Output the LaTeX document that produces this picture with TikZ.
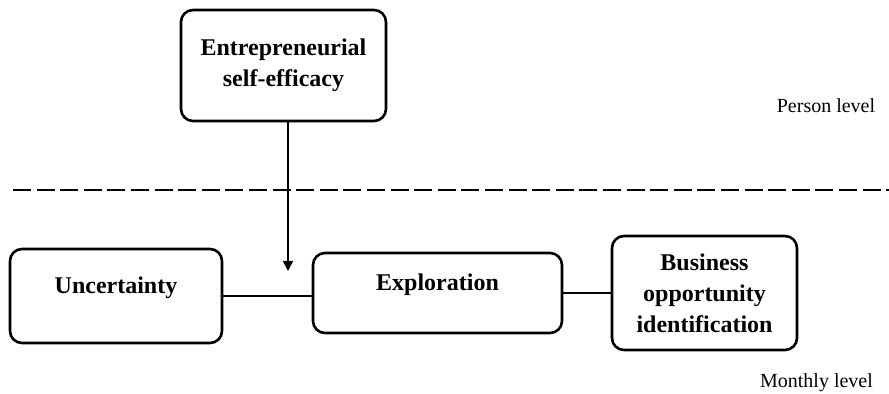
\documentclass[tikz,border=0pt]{standalone}
\usepackage{fontspec}
\setmainfont{Liberation Serif}
\usetikzlibrary{arrows.meta}

\begin{document}
\begin{tikzpicture}[x=0.5pt, y=-0.5pt, >={Triangle[length=5pt,width=5pt]},
    box/.style={draw, line width=1.3pt, rounded corners=6pt, align=center,
        font=\fontsize{12}{15.5}\selectfont\bfseries, inner sep=2pt},
    levellabel/.style={font=\fontsize{10}{12}\selectfont}]
    \useasboundingbox (0,0) rectangle (889,394);

    \node[box, minimum width=102.5pt, minimum height=55.5pt] (ese) at (283.5,65.5) {Entrepreneurial\\self-efficacy};
    \node[box, minimum width=106pt, minimum height=47pt, text depth=11pt] (unc) at (116,296) {Uncertainty};
    \node[box, minimum width=124.5pt, minimum height=40pt, text depth=11pt] (expl) at (437.5,293) {Exploration};
    \node[box, minimum width=92.5pt, minimum height=57pt] (boi) at (704.5,293) {Business\\opportunity\\identification};

    \node[levellabel] (person) at (826,106) {Person level};
    \node[levellabel] (monthly) at (816.5,383) {Monthly level};

    \coordinate (dl) at (13,190);
    \coordinate (dr) at (889,190);
    \draw[line width=1pt, dash pattern=on 9pt off 2.8pt] (dl) -- (dr);

    \coordinate (tip) at (288,271);
    \draw[->, line width=0.8pt] (ese.south -| tip) -- (tip);

    \draw[line width=0.9pt] (unc.east) -- (unc.east -| expl.west);
    \draw[line width=0.9pt] (expl.east) -- (expl.east -| boi.west);
\end{tikzpicture}
\end{document}
